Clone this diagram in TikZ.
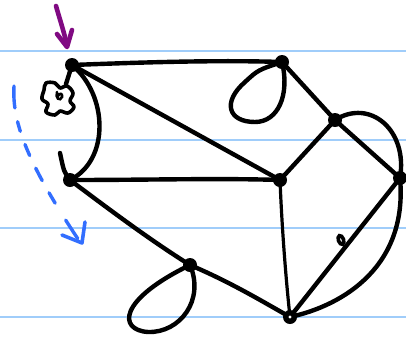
\documentclass[tikz,border=0pt]{standalone}
\usetikzlibrary{arrows.meta}
\definecolor{rulec}{RGB}{160,205,250}
\definecolor{purp}{RGB}{128,10,130}
\definecolor{blu}{RGB}{50,110,255}
\tikzset{
  dot/.style={circle,fill=black,inner sep=0pt,minimum size=14pt},
  edge/.style={line width=4.4pt,line cap=round,line join=round},
  thinedge/.style={line width=3.2pt,line cap=round},
  rule/.style={rulec,line width=2pt},
}
\begin{document}
\begin{tikzpicture}[x=1pt,y=-1pt]
\useasboundingbox (0,0) rectangle (406,338);
\fill[white] (0,0) rectangle (406,338);
% ruled lines
\foreach \yy in {51,140,228,317} \draw[rule] (0,\yy) -- (406,\yy);
% nodes
\node[dot] (A) at (72,65) {};
\node[dot] (B) at (70,180) {};
\node[dot] (C) at (282,62) {};
\node[dot] (D) at (335,120) {};
\node[dot] (E) at (280,180) {};
\node[dot] (F) at (400,178) {};
\node[dot] (G) at (190,265) {};
\node[dot] (H) at (290,317) {};
\coordinate (Bs) at (60,153);
\coordinate (Bl) at (66,84);
% edges
\draw[edge] (A.center) .. controls (150,62) and (220,60) .. (C.center);
\draw[edge] (A.center) -- (E.center);
\draw[edge] (A.center) .. controls (108,95) and (110,160) .. (B.center) .. controls (64,172) .. (Bs);
\draw[edge] (B.center) .. controls (150,180) and (220,178) .. (E.center);
\draw[edge] (B.center) .. controls (110,210) and (150,240) .. (G.center);
\draw[edge] (G.center) .. controls (205,300) and (180,333) .. (148,332)
   .. controls (118,330) and (118,300) .. (G.center);
\draw[edge] (G.center) .. controls (230,282) and (260,300) .. (H.center);
\draw[edge] (C.center) .. controls (290,95) and (278,122) .. (255,122)
   .. controls (228,122) and (222,102) .. (245,82) .. controls (258,70) .. (C.center);
\draw[edge] (C.center) -- (D.center);
\draw[edge] (D.center) -- (E.center);
\draw[edge] (D.center) -- (F.center);
\draw[edge] (D.center) .. controls (370,98) and (408,130) .. (F.center);
\draw[thinedge] (E.center) .. controls (282,230) and (286,280) .. (H.center);
\draw[edge] (H.center) -- (F.center);
\draw[edge] (H.center) .. controls (345,305) and (408,265) .. (F.center);
\fill[white] (H.center) circle (1.6pt);
% small mark
\draw[line width=3.6pt,rotate around={20:(341,240)}] (341,240) ellipse (2.6pt and 4.6pt);
% blob
\draw[edge] (A.center) -- (Bl);
\draw[line width=3.6pt,line join=round] plot[smooth cycle,tension=0.6] coordinates
  {(46,83) (55,83) (60,88) (67,86) (73,93) (70,101) (74,107) (68,113) (60,111) (55,115) (46,112) (48,104) (42,99) (44,90)};
\draw[line width=2.6pt,line cap=round] (57,92) .. controls (55,98) and (60,102) .. (62,97) .. controls (63,93) and (59,93) .. (58,96);
% purple arrow
\draw[purp,line width=4.6pt,line cap=round,line join=round] (56,6) .. controls (60,20) and (65,35) .. (67,46);
\draw[purp,line width=4.6pt,line cap=round,line join=round] (57,34) -- (67,47) -- (72,30);
% blue dashed arrow
\draw[blu,line width=3.4pt,line cap=round,dash pattern=on 22pt off 14pt on 10pt off 14pt on 12pt off 14pt on 14pt off 14pt on 12pt off 20pt]
  (14,86) .. controls (12,120) and (25,160) .. (80,242);
\draw[blu,line width=3.6pt,line cap=round,line join=round] (62,235) -- (82,243) -- (85,222);
\end{tikzpicture}
\end{document}
